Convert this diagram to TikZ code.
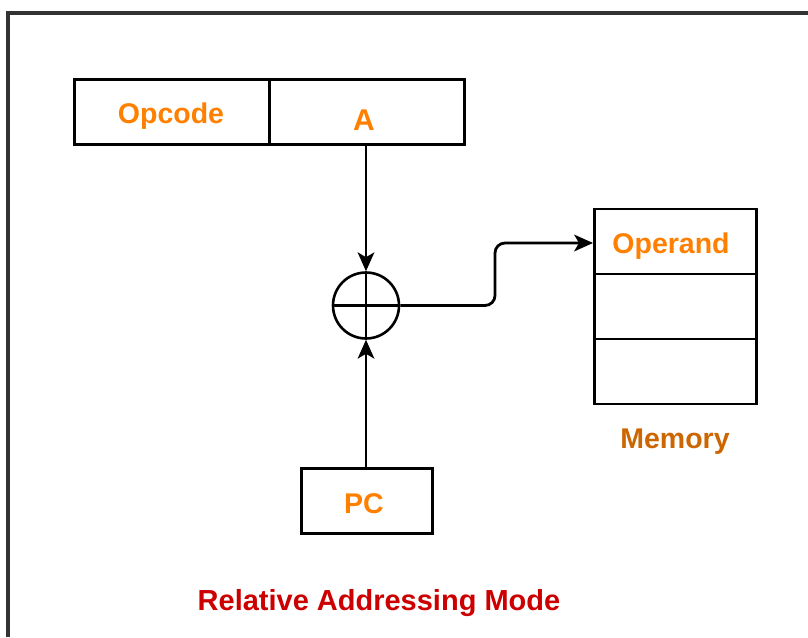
\documentclass[tikz,border=0pt]{standalone}
\usepackage{fontspec}
\setmainfont{Liberation Sans}
\usetikzlibrary{arrows.meta}
\definecolor{orng}{HTML}{FF8000}
\definecolor{memc}{HTML}{CC6600}
\definecolor{ttl}{HTML}{CC0000}
\tikzset{
  cell/.style={draw=black,line width=2.6pt,minimum width=#1,minimum height=65pt,inner sep=0pt,anchor=north west},
  lbl/.style={font=\fontsize{28.5}{30}\selectfont\bfseries,text=orng,anchor=base,inner sep=0pt},
  wirearrow/.style={line width=2.8pt,-{Stealth[length=19pt,width=17pt,inset=5pt,line width=0pt]}}
}
\begin{document}
\begin{tikzpicture}[x=1pt,y=-1pt]
\useasboundingbox (0,0) rectangle (808,637);
% frame
\draw[line width=3.2pt,black!80] (8,637) -- (8,13) -- (808,13);
% instruction
\node[cell=195pt] (op) at (73,78) {};
\node[cell=195pt] (a) at (268,78) {};
\node[lbl] (optxt) at (171,123) {Opcode};
\node[lbl,font=\fontsize{30}{32}\selectfont\bfseries] (atxt) at (364,130) {A};
% adder
\node[draw,circle,line width=2.6pt,minimum size=66pt,inner sep=0pt] (sum) at (366,305.5) {};
\draw[line width=2.6pt] (sum.north) -- (sum.south);
\draw[line width=2.6pt] (sum.west) -- (sum.east);
% PC
\node[cell=131pt] (pc) at (300,467) {};
\node[lbl] (pctxt) at (364,513) {PC};
% memory
\node[cell=162pt] (m1) at (593,207.5) {};
\node[cell=162pt] (m2) at (593,272.5) {};
\node[cell=162pt] (m3) at (593,337.5) {};
\node[lbl] (opd) at (671,253) {Operand};
\node[lbl,text=memc] (mem) at (675,448) {Memory};
% title
\node[lbl,text=ttl,font=\fontsize{29}{31}\selectfont\bfseries] (title) at (379,610) {Relative Addressing Mode};
% connectors
\draw[wirearrow] (a.south -| sum.north) -- (sum.north);
\draw[wirearrow] (pc.north -| sum.south) -- (sum.south);
\draw[wirearrow,rounded corners=10pt] (sum.east) -- (495,305.5) -- (495,243) -- (m1.west |- 0,243);
\end{tikzpicture}
\end{document}
